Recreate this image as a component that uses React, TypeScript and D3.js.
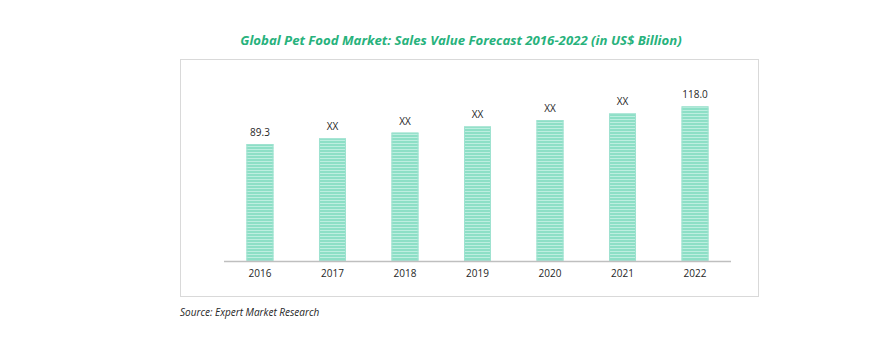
import React from "react";
import * as d3 from "d3";

// chart data
const years = ["2016", "2017", "2018", "2019", "2020", "2021", "2022"];
const salesValues = [89.3, 93.6, 98.0, 102.7, 107.6, 112.7, 118.0];
const valueLabels = ["89.3", "XX", "XX", "XX", "XX", "XX", "118.0"];

const title = "Global Pet Food Market: Sales Value Forecast 2016-2022 (in US$ Billion)";
const source = "Source: Expert Market Research";

const W = 877;
const H = 350;
const baseline = 261;

const App = () => {
  const xScale = d3
    .scaleBand()
    .domain(years)
    .range([224, 731])
    .paddingInner(0.628)
    .paddingOuter(0.31);
  const yScale = d3.scaleLinear().domain([0, 140]).range([baseline, baseline - 183.4]);

  return (
    <svg
      width={W}
      height={H}
      style={{ position: "absolute", left: 0, top: 0, background: "#fff" }}
      fontFamily="'Open Sans', 'Liberation Sans', sans-serif"
    >
      <defs>
        <pattern id="stripes" width="4" height="3" patternUnits="userSpaceOnUse">
          <rect width="4" height="3" fill="#8ddfc6" />
          <rect y="2" width="4" height="1" fill="#bdeee0" />
        </pattern>
      </defs>

      <text
        x={461}
        y={45}
        textAnchor="middle"
        fontSize={13.2}
        fontWeight="bold"
        fontStyle="italic"
        fill="#27b27c"
      >
        {title}
      </text>

      <rect x={180.5} y={59.5} width={578} height={237} fill="none" stroke="#d9d9d9" />

      {years.map((yr, i) => (
        <g key={yr}>
          <rect
            x={xScale(yr)}
            y={yScale(salesValues[i])}
            width={xScale.bandwidth()}
            height={baseline - yScale(salesValues[i])}
            fill="url(#stripes)"
          />
          <rect
            x={xScale(yr)! + 0.5}
            y={yScale(salesValues[i]) + 0.5}
            width={xScale.bandwidth() - 1}
            height={baseline - yScale(salesValues[i]) - 1}
            fill="none"
            stroke="#9fe2d0"
            strokeWidth={1}
          />
          <text
            x={xScale(yr)! + xScale.bandwidth() / 2}
            y={yScale(salesValues[i]) - 8}
            textAnchor="middle"
            fontSize={10}
            fill="#262626"
          >
            {valueLabels[i]}
          </text>
          <text
            x={xScale(yr)! + xScale.bandwidth() / 2}
            y={277}
            textAnchor="middle"
            fontSize={10}
            fill="#262626"
          >
            {yr}
          </text>
        </g>
      ))}

      <line x1={224} x2={731} y1={baseline + 0.5} y2={baseline + 0.5} stroke="#bfbfbf" strokeWidth={1.5} />

      <text x={180} y={316} fontSize={10} fontStyle="italic" fill="#262626">
        {source}
      </text>
    </svg>
  );
};

export default App;
